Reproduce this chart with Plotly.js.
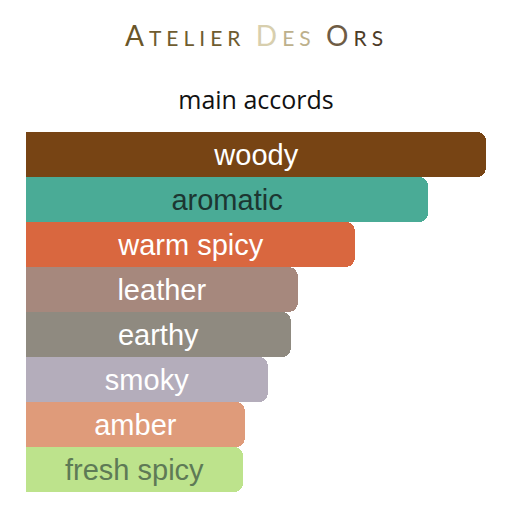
<!DOCTYPE html>
<html>
<head>
<meta charset="utf-8">
<script src="https://cdn.plot.ly/plotly-3.0.1.min.js"></script>
<style>
html,body{margin:0;padding:0;background:#fff;}
#chart{width:509px;height:532px;}
</style>
</head>
<body>
<div id="chart"></div>
<script>
const accords = ["woody", "aromatic", "warm spicy", "leather", "earthy", "smoky", "amber", "fresh spicy"];
const strengths = [100, 87.4, 71.5, 59.1, 57.6, 52.6, 47.6, 47.2];
const barColors = ["#774414", "#4aab96", "#d9673f", "#a6887d", "#8f8a80", "#b4adbb", "#df9b7a", "#bde38c"];
const textColors = ["#ffffff", "#1c3631", "#ffffff", "#ffffff", "#ffffff", "#ffffff", "#ffffff", "#5e7a56"];
const chartTitle = "main accords";

const logoParts = [
  {t: "A", big: true, c: "#6a5629"},
  {t: "TELIER", big: false, c: "#6f5c30"},
  {t: " ", big: false, c: "#fff"},
  {t: "D", big: true, c: "#d8cfae"},
  {t: "ES", big: false, c: "#bdb08c"},
  {t: " ", big: false, c: "#fff"},
  {t: "O", big: true, c: "#6e5c45"},
  {t: "RS", big: false, c: "#4c3b27"}
];
const logoHtml = logoParts.map(p =>
  `<span style="font-size:${p.big ? 28 : 21}px;color:${p.c};letter-spacing:5px">${p.t}</span>`
).join("");

const trace = {
  type: "bar",
  orientation: "h",
  y: accords,
  x: strengths,
  text: accords,
  textposition: "inside",
  insidetextanchor: "middle",
  textangle: 0,
  textfont: {family: "Liberation Sans, Arial, sans-serif", size: 29, color: textColors},
  marker: {color: barColors, line: {width: 0}},
  hoverinfo: "none",
  cliponaxis: false
};

const layout = {
  width: 509,
  height: 532,
  margin: {l: 26, r: 23, t: 132, b: 40},
  paper_bgcolor: "#ffffff",
  plot_bgcolor: "#ffffff",
  bargap: 0,
  barcornerradius: 9,
  showlegend: false,
  title: {
    text: chartTitle,
    font: {family: "Open Sans, Noto Sans, sans-serif", size: 25, color: "#111111"},
    x: 0.5, xref: "paper", xanchor: "center",
    y: 1 - 100/532, yref: "container", yanchor: "middle"
  },
  xaxis: {range: [0, 100], visible: false, fixedrange: true},
  yaxis: {autorange: "reversed", visible: false, fixedrange: true},
  annotations: [{
    text: logoHtml,
    xref: "paper", yref: "paper",
    x: 0.5, y: 1 + (132 - 35) / 360,
    xanchor: "center", yanchor: "middle",
    showarrow: false,
    font: {family: "Lato, DejaVu Sans, sans-serif", size: 21, color: "#6f5c30"}
  }]
};

Plotly.newPlot("chart", [trace], layout, {displayModeBar: false, staticPlot: true});
</script>
</body>
</html>
